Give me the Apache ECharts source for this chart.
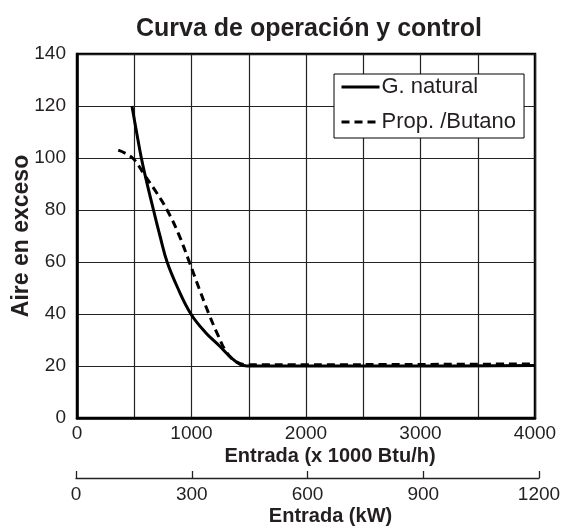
<!DOCTYPE html>
<html>
<head>
<meta charset="utf-8">
<script src="https://cdn.jsdelivr.net/npm/echarts@6/dist/echarts.min.js"></script>
<style>html,body{margin:0;padding:0;background:#fff}#c{width:563px;height:529px}</style>
</head>
<body>
<div id="c"></div>
<script>
const titleText = 'Curva de operación y control';
const yTicks = [0, 20, 40, 60, 80, 100, 120, 140];
const btuTicks = [0, 1000, 2000, 3000, 4000];
const kwTicks = [0, 300, 600, 900, 1200];
const gasName = 'G. natural';
const gasX = [480, 520, 562, 610, 668, 725, 787, 880, 995, 1120, 1247, 1350, 1426, 1485, 2000, 3000, 4000];
const gasY = [120, 110, 100, 90.5, 80, 70, 60, 50, 40, 33, 27.6, 23, 20.6, 20, 20, 20, 20.2];
const propName = 'Prop. /Butano';
const propX = [360, 485, 592, 690, 787, 885, 981, 1065, 1152, 1230, 1307, 1396, 1500, 2000, 3000, 4000];
const propY = [103, 100, 93.3, 87, 80, 71, 60, 50, 40, 32, 25.2, 21.5, 20.5, 20.5, 20.6, 20.8];

const txt = '#231f20';
const ff = 'Liberation Sans, Arial, sans-serif';
const chart = echarts.init(document.getElementById('c'), null, {renderer: 'canvas'});
chart.setOption({
  animation: false,
  backgroundColor: '#fff',
  title: {
    text: titleText, left: 131, top: 12,
    textStyle: {fontFamily: ff, fontWeight: 'bold', fontSize: 25, color: txt}
  },
  legend: {
    orient: 'vertical', left: 334, top: 74,
    backgroundColor: '#fff', borderColor: '#000', borderWidth: 1,
    padding: [2, 8, 5, 6], itemGap: 13, itemWidth: 38, itemHeight: 14,
    data: [gasName, propName],
    itemStyle: {opacity: 0},
    lineStyle: {width: 3},
    textStyle: {fontFamily: ff, fontSize: 22, lineHeight: 22, color: txt, padding: [0, 0, 0, -3]}
  },
  grid: [
    {left: 77, right: 28, top: 54, bottom: 111, show: true, borderColor: '#000', borderWidth: 2.5,
     containLabel: false, outerBoundsMode: 'none'},
    {left: 76, right: 24, top: 460, height: 18, containLabel: false, outerBoundsMode: 'none'}
  ],
  xAxis: [
    {
      type: 'value', gridIndex: 0, min: 0, max: 4000, interval: 500,
      name: 'Entrada (x 1000 Btu/h)', nameLocation: 'middle', nameGap: 28, nameMoveOverlap: false,
      nameTextStyle: {fontFamily: ff, fontWeight: 'bold', fontSize: 20, color: txt, padding: [0, 0, 0, 48]},
      axisLine: {show: true, lineStyle: {color: '#000', width: 2.5}},
      axisTick: {show: false},
      axisLabel: {margin: 6, fontFamily: ff, fontSize: 19, color: txt,
        formatter: v => btuTicks.indexOf(v) >= 0 ? String(v) : ''},
      splitLine: {show: true, lineStyle: {color: '#222', width: 1.2}}
    },
    {
      type: 'value', gridIndex: 1, min: 0, max: 1200, interval: 300, position: 'bottom',
      name: 'Entrada (kW)', nameLocation: 'middle', nameGap: 28, nameMoveOverlap: false,
      nameTextStyle: {fontFamily: ff, fontWeight: 'bold', fontSize: 20, color: txt, padding: [0, 0, 0, 46]},
      axisLine: {show: true, lineStyle: {color: '#222', width: 1.3}},
      axisTick: {show: true, inside: true, length: 7, lineStyle: {color: '#222', width: 1.3}},
      axisLabel: {margin: 7, fontFamily: ff, fontSize: 19, color: txt,
        formatter: v => kwTicks.indexOf(v) >= 0 ? String(v) : ''},
      splitLine: {show: false}
    }
  ],
  yAxis: [
    {
      type: 'value', gridIndex: 0, min: 0, max: 140, interval: 20,
      name: 'Aire en exceso', nameLocation: 'middle', nameGap: 44, nameRotate: 90, nameMoveOverlap: false,
      nameTextStyle: {fontFamily: ff, fontWeight: 'bold', fontSize: 23, color: txt},
      axisLine: {show: true, lineStyle: {color: '#000', width: 2.5}},
      axisTick: {show: false},
      axisLabel: {margin: 11, fontFamily: ff, fontSize: 19, color: txt,
        formatter: v => yTicks.indexOf(v) >= 0 ? String(v) : ''},
      splitLine: {show: true, lineStyle: {color: '#222', width: 1.2}}
    },
    {type: 'value', gridIndex: 1, min: 0, max: 1, show: false}
  ],
  series: [
    {
      name: gasName, type: 'line', xAxisIndex: 0, yAxisIndex: 0, smooth: 0.4,
      symbol: 'none', z: 3,
      lineStyle: {color: '#000', width: 3},
      itemStyle: {color: '#000'},
      data: gasX.map((x, i) => [x, gasY[i]])
    },
    {
      name: propName, type: 'line', xAxisIndex: 0, yAxisIndex: 0, smooth: 0.4,
      symbol: 'none', z: 2,
      lineStyle: {color: '#000', width: 3, type: [8, 5]},
      itemStyle: {color: '#000'},
      data: propX.map((x, i) => [x, propY[i]])
    }
  ]
});
</script>
</body>
</html>
